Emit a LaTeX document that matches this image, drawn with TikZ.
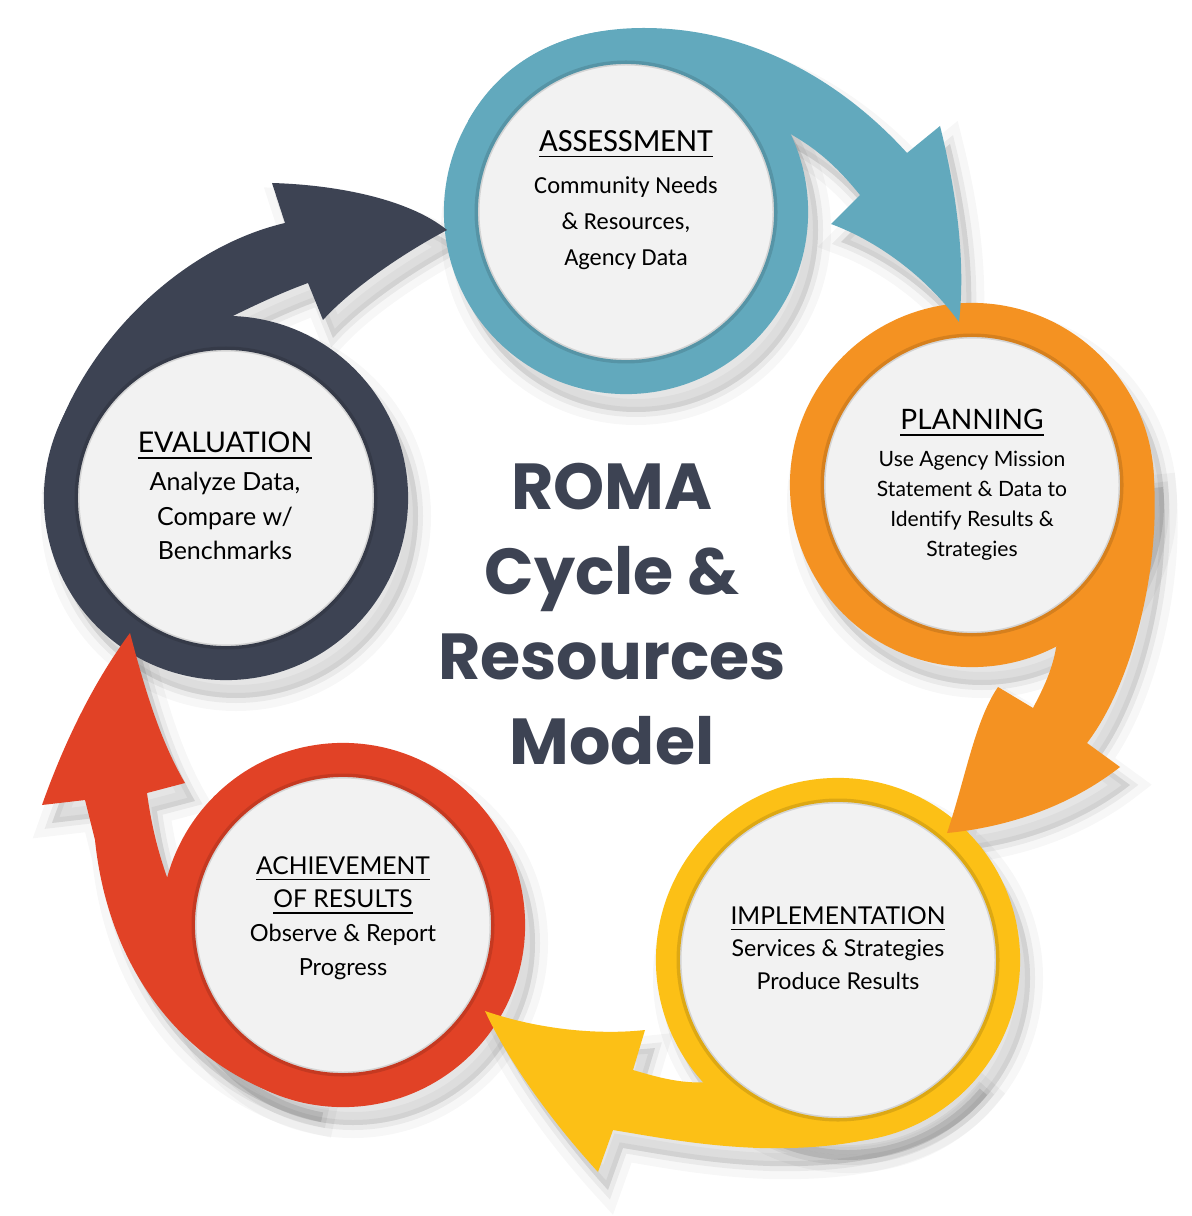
\documentclass[tikz,border=0pt]{standalone}
\usepackage{fontspec}
\usetikzlibrary{backgrounds}
\setmainfont{Lato}
\newfontfamily\calfont{Carlito}
\newfontfamily\titlefont{Poppins}
\definecolor{roteal}{RGB}{98,169,189}
\definecolor{roorange}{RGB}{244,146,34}
\definecolor{royellow}{RGB}{252,192,22}
\definecolor{rored}{RGB}{225,66,38}
\definecolor{rodark}{RGB}{61,67,83}
\definecolor{diskgray}{RGB}{242,242,242}
% outlines of the five arrows, each one leaves its ring and ends on the next ring
\newcommand{\tealarrow}{(468,121) .. controls (505,55) and (570,28) .. (644,28)
    .. controls (760,28) and (850,90) .. (907,153)
    -- (940,126) .. controls (956,190) and (966,260) .. (959,322)
    .. controls (925,275) and (875,240) .. (831,224)
    -- (860,195) .. controls (838,168) and (815,145) .. ([shift={(-30:172)}]ass.center)
    arc[start angle=-30, end angle=-150, radius=172] -- cycle}
\newcommand{\orangearrow}{(1153,469) .. controls (1162,560) and (1135,680) .. (1087,743)
    -- (1120,767) .. controls (1065,810) and (1000,828) .. (947,833)
    .. controls (965,780) and (975,720) .. (998,687)
    -- (1033,708) .. controls (1045,685) and (1055,665) .. ([shift={(60:172)}]plan.center)
    arc[start angle=60, end angle=-5, radius=172] -- cycle}
\newcommand{\yellowarrow}{(977,1077) .. controls (930,1135) and (850,1150) .. (760,1148)
    .. controls (700,1146) and (650,1136) .. (613,1130)
    -- (598,1172) .. controls (555,1125) and (510,1065) .. (485,1011)
    .. controls (540,1030) and (600,1035) .. (645,1030)
    -- (633,1070) .. controls (660,1078) and (685,1085) .. ([shift={(135:172)}]impl.center)
    arc[start angle=135, end angle=40, radius=172] -- cycle}
\newcommand{\redarrow}{(311,1104) .. controls (200,1080) and (110,985) .. (95,840)
    -- (85,800) -- (42,805) .. controls (65,740) and (95,680) .. (130,633)
    .. controls (145,690) and (160,740) .. (185,783)
    -- (147,793) .. controls (152,830) and (160,860) .. ([shift={(190:172)}]ach.center)
    arc[start angle=190, end angle=100, radius=172] -- cycle}
\newcommand{\darkarrow}{(47,466) .. controls (70,360) and (170,250) .. (285,223)
    -- (272,183) .. controls (340,185) and (410,200) .. (447,230)
    .. controls (400,255) and (350,290) .. (323,320)
    -- (308,283) .. controls (275,295) and (245,310) .. ([shift={(265:172)}]eva.center)
    arc[start angle=265, end angle=190, radius=172] -- cycle}
\begin{document}
\begin{tikzpicture}[x=0.01cm, y=-0.01cm,
    ring/.style={circle, minimum size=3.3cm, inner sep=0pt, line width=0.34cm, fill=diskgray},
    stagetext/.style={align=center, inner sep=0pt, text=black, font=\fontsize{6.6}{8.6}\selectfont},
    shade/.style={black, transform canvas={shift={(10,18)}}}]
    \useasboundingbox (0,0) rectangle (1191,1216);

    % the five rings
    \node[ring, draw=roteal](ass) at (626,212) {};
    \node[ring, draw=roorange](plan) at (972,485) {};
    \node[ring, draw=royellow, minimum size=3.4cm, line width=0.24cm](impl) at (838,960) {};
    \node[ring, draw=rored](ach) at (343,925) {};
    \node[ring, draw=rodark](eva) at (226,498) {};
    \foreach \n/\r in {ass/149, plan/149, impl/159, ach/149, eva/149}
        \draw[black, opacity=.12, line width=0.05cm] (\n.center) circle[radius=\r];

    % arrows
    \foreach \shape/\col in {\tealarrow/roteal, \orangearrow/roorange, \yellowarrow/royellow, \redarrow/rored, \darkarrow/rodark}
        \fill[\col] \shape;

    % soft grey shadows behind everything
    \begin{scope}[on background layer]
        \fill[white] (0,0) rectangle (1191,1216);
        \foreach \shape in {\tealarrow, \orangearrow, \yellowarrow, \redarrow, \darkarrow, (ass.center) circle[radius=182], (plan.center) circle[radius=182], (impl.center) circle[radius=182], (ach.center) circle[radius=182], (eva.center) circle[radius=182]} {
            \fill[shade, opacity=.10] \shape;
            \draw[shade, opacity=.05, line width=0.1cm] \shape;
            \draw[shade, opacity=.03, line width=0.26cm] \shape;
        }
    \end{scope}

    % texts
    \node[stagetext, font=\calfont\fontsize{6.95}{10.2}\selectfont](asstext) at (626,200)
        {{\fontsize{9.2}{10.2}\selectfont\underline{ASSESSMENT}}\\[2pt] Community Needs\\ \& Resources,\\ Agency Data};
    \node[stagetext, font=\fontsize{6.0}{8.5}\selectfont](plantext) at (972,485)
        {{\fontsize{8}{8.5}\selectfont\underline{PLANNING}}\\[2pt] Use Agency Mission\\ Statement \& Data to\\ Identify Results \&\\ Strategies};
    \node[stagetext, font=\fontsize{6.6}{9.2}\selectfont](impltext) at (838,948)
        {{\fontsize{7.0}{9.2}\selectfont\underline{IMPLEMENTATION}}\\ Services \& Strategies\\ Produce Results};
    \node[stagetext, font=\fontsize{6.7}{9.6}\selectfont](achtext) at (343,918)
        {{\fontsize{7.0}{9.6}\selectfont\underline{ACHIEVEMENT}}\\ {\fontsize{7.0}{9.6}\selectfont\underline{OF RESULTS}}\\ Observe \& Report\\ Progress};
    \node[stagetext, font=\fontsize{7.1}{9.8}\selectfont](evatext) at (225,496)
        {{\fontsize{8.1}{9.8}\selectfont\underline{EVALUATION}}\\[1pt] Analyze Data,\\ Compare w/\\ Benchmarks};
    \node[align=center, text=rodark, font=\titlefont\bfseries\fontsize{18.5}{24.2}\selectfont](title) at (612,614)
        {ROMA\\ Cycle \&\\ Resources\\ Model};
\end{tikzpicture}
\end{document}
